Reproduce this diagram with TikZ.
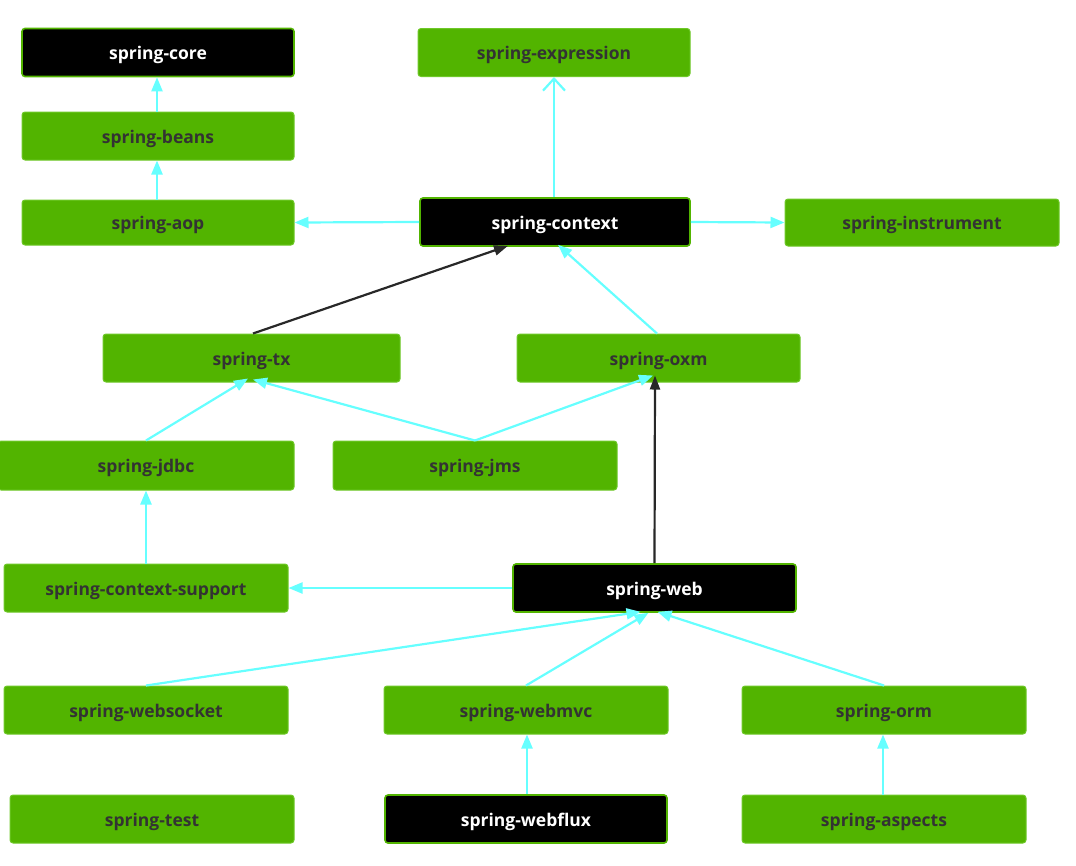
\documentclass[tikz,border=0pt]{standalone}
\usepackage{fontspec}
\setmainfont{Open Sans}
\usetikzlibrary{arrows.meta,calc}
\definecolor{boxgreen}{RGB}{82,180,0}
\definecolor{edgegreen}{RGB}{110,200,40}
\definecolor{cyanline}{RGB}{102,255,255}
\definecolor{txtgray}{RGB}{51,51,51}
\definecolor{darkline}{RGB}{40,40,40}
\tikzset{
  box/.style={draw=edgegreen, line width=1pt, fill=boxgreen, rounded corners=3pt,
    minimum height=48pt, inner sep=0pt, text=txtgray, text height=15.5pt, text depth=1.5pt,
    font=\fontsize{17.5}{20}\selectfont\bfseries},
  dark/.style={box, fill=black, draw=boxgreen, line width=1.6pt, text=white},
  cy/.style={draw=cyanline, line width=2.2pt, -{Triangle[length=14pt,width=11pt]}},
  cyopen/.style={draw=cyanline, line width=2.2pt, -{Straight Barb[length=12pt,width=22pt]}},
  blk/.style={draw=darkline, line width=2.2pt, -{Triangle[length=14pt,width=10pt]}},
}
\begin{document}
\begin{tikzpicture}[x=1pt,y=-1pt]
\useasboundingbox (0,0) rectangle (1076,865);
\node[dark, minimum width=272pt] (core) at (158,52.5) {spring-core};
\node[box, minimum width=272pt] (expr) at (554,52.5) {spring-expression};
\node[box, minimum width=272pt] (beans) at (158,136) {spring-beans};
\node[box, minimum width=272pt, minimum height=45pt] (aop) at (158,222.5) {spring-aop};
\node[dark, minimum width=270pt] (context) at (555,222) {spring-context};
\node[box, minimum width=274pt, minimum height=47pt] (instr) at (922,222.5) {spring-instrument};
\node[box, minimum width=297pt] (tx) at (251.5,358) {spring-tx};
\node[box, minimum width=283pt] (oxm) at (658.5,358) {spring-oxm};
\node[box, minimum width=296pt, minimum height=49pt] (jdbc) at (146,465.5) {spring-jdbc};
\node[box, minimum width=284pt, minimum height=49pt] (jms) at (475,465.5) {spring-jms};
\node[box, minimum width=284pt] (ctxsup) at (146,588) {spring-context-support};
\node[dark, minimum width=283pt] (web) at (654.5,588) {spring-web};
\node[box, minimum width=284pt] (websocket) at (146,710) {spring-websocket};
\node[box, minimum width=284pt] (webmvc) at (526,710) {spring-webmvc};
\node[box, minimum width=284pt] (orm) at (884,710) {spring-orm};
\node[box, minimum width=284pt] (test) at (152,819) {spring-test};
\node[dark, minimum width=282pt] (webflux) at (526,819) {spring-webflux};
\node[box, minimum width=284pt] (aspects) at (884,819) {spring-aspects};
\draw[cy] ([xshift=-1pt]beans.north) -- ([xshift=-1pt]core.south);
\draw[cy] ([xshift=-1pt]aop.north) -- ([xshift=-1pt]beans.south);
\draw[cy] (context.west) -- (aop.east);
\draw[cyopen] ([xshift=-1pt]context.north) -- ([xshift=0pt]expr.south);
\draw[cy] (context.east) -- (instr.west);
\draw[blk] ([xshift=1.5pt]tx.north) -- ([xshift=-47pt,yshift=1pt]context.south);
\draw[cy] ([xshift=-1.5pt]oxm.north) -- ([xshift=3pt,yshift=2pt]context.south);
\draw[cy] (jdbc.north) -- ([xshift=-3.5pt,yshift=4pt]tx.south);
\draw[cy] (jms.north) -- ([xshift=1.5pt,yshift=3pt]tx.south);
\draw[cy] (jms.north) -- ([xshift=-5.5pt,yshift=7pt]oxm.south);
\draw[blk] (web.north) -- ([xshift=-3.5pt,yshift=7pt]oxm.south);
\draw[cy] (web.west) -- (ctxsup.east);
\draw[cy] (ctxsup.north) -- (jdbc.south);
\draw[cy] (websocket.north) -- ([xshift=-14pt,yshift=1pt]web.south);
\draw[cy] (webmvc.north) -- ([xshift=-6pt]web.south);
\draw[cy] (orm.north) -- ([xshift=3pt,yshift=1pt]web.south);
\draw[cy] ([xshift=1pt]webflux.north) -- ([xshift=1pt]webmvc.south);
\draw[cy] ([xshift=-1pt]aspects.north) -- ([xshift=-1pt]orm.south);
\end{tikzpicture}
\end{document}
